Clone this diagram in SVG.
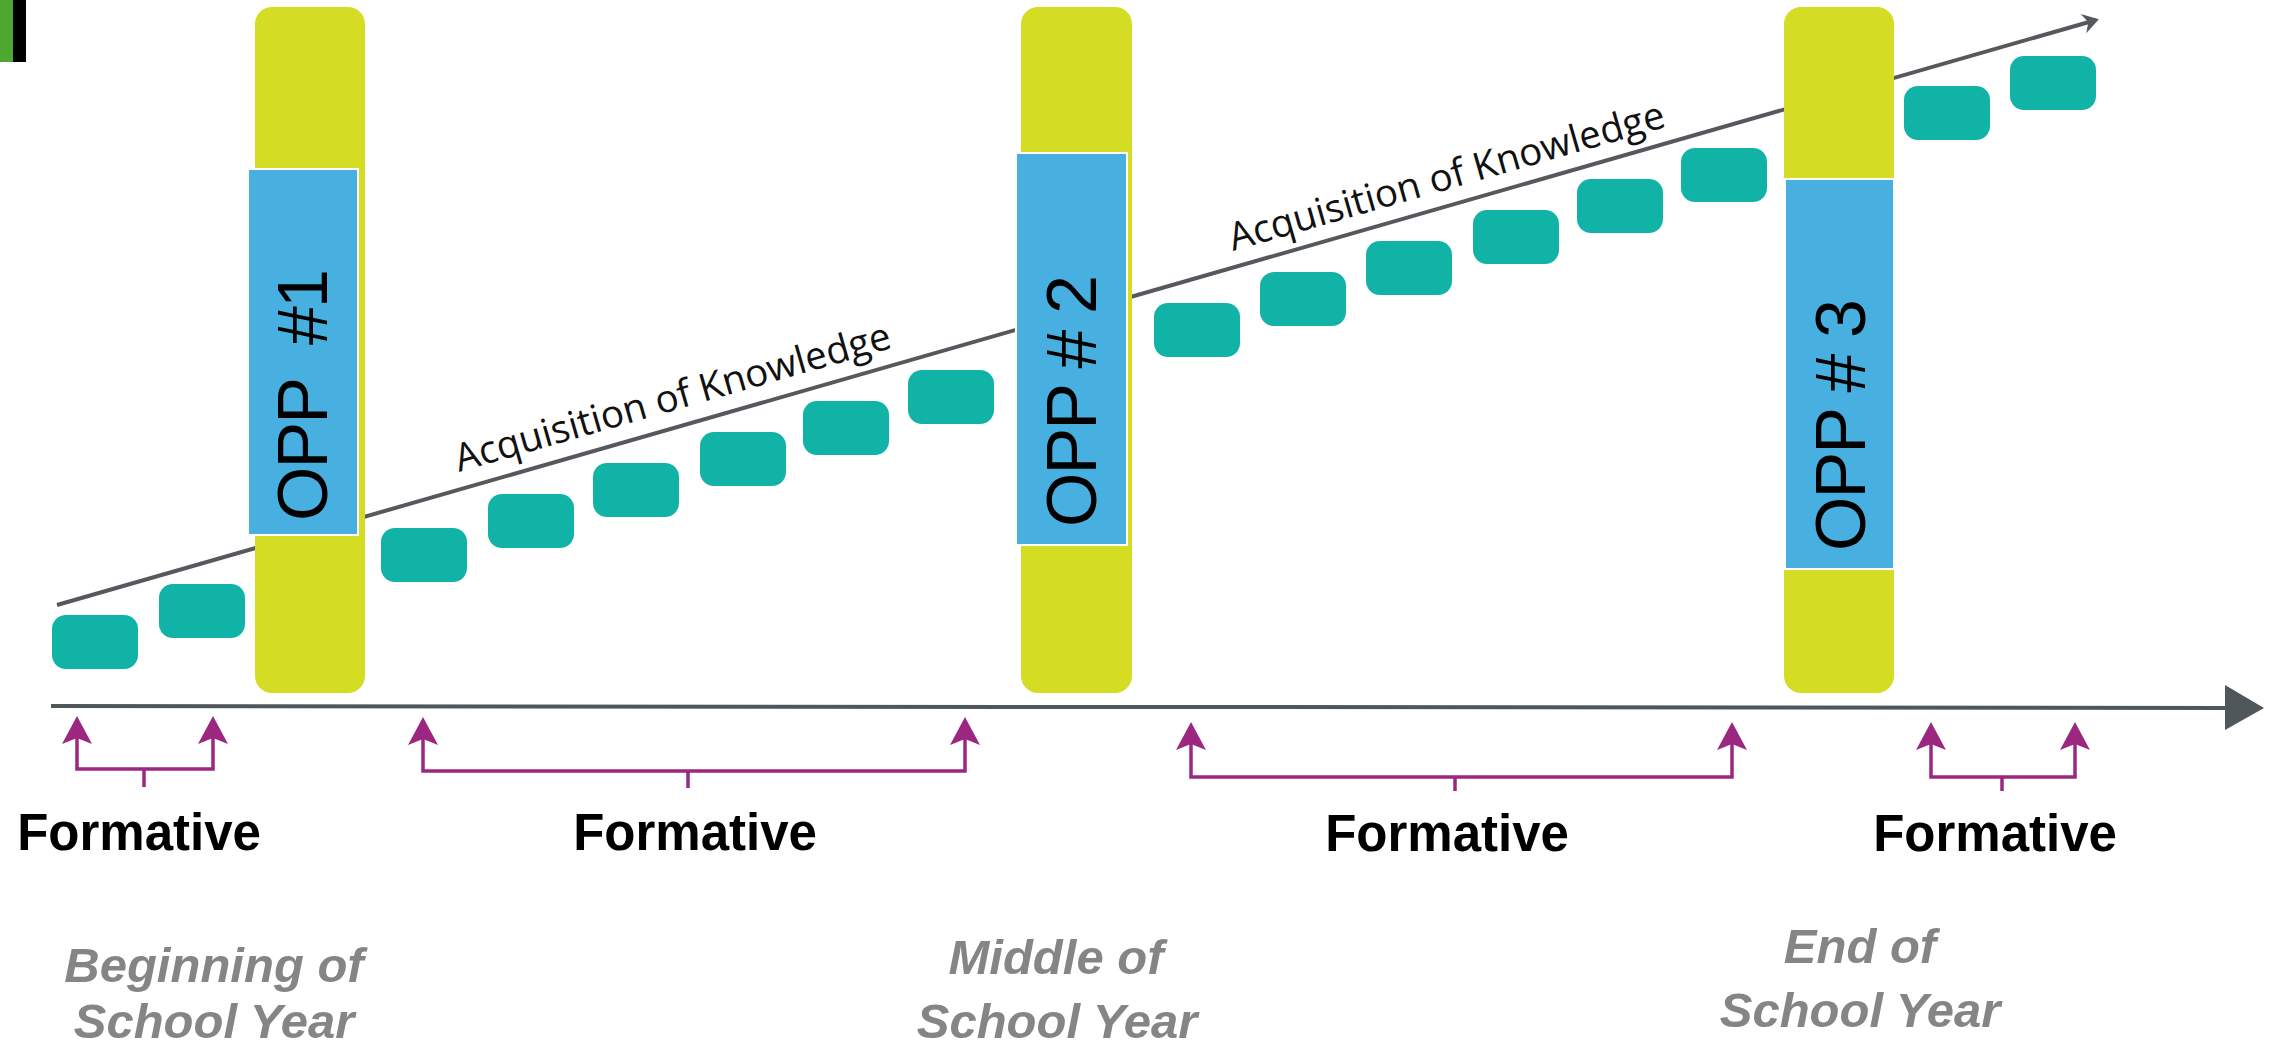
<svg xmlns="http://www.w3.org/2000/svg" width="2283" height="1050" viewBox="0 0 2283 1050">
<style>
.step{fill:#11b3a6}
.bar{fill:#d4dd24}
.opp{fill:#47b0e0;stroke:#ffffff;stroke-width:2}
.oppt{font-family:"Liberation Sans",Arial,sans-serif;font-size:70px;fill:#000;text-anchor:middle}
.acq{font-family:"Open Sans",sans-serif;font-size:38.5px;fill:#111}
.form{font-family:"Liberation Sans",Arial,sans-serif;font-size:51px;font-weight:bold;fill:#000;text-anchor:middle}
.when{font-family:"Liberation Sans",Arial,sans-serif;font-size:49px;font-weight:bold;font-style:italic;fill:#858585;text-anchor:middle}
.brk{fill:none;stroke:#9c2780;stroke-width:3.5}
.tick{stroke:#9c2780;stroke-width:3.5}
</style>
<defs>
<marker id="pa" markerUnits="userSpaceOnUse" viewBox="-24 -16 32 32" refX="0" refY="0" markerWidth="32" markerHeight="32" orient="auto-start-reverse">
<path d="M6,0 L-22,-15 L-16,0 L-22,15 Z" fill="#9c2780"/>
</marker>
<marker id="ga" markerUnits="userSpaceOnUse" viewBox="-16 -12 24 24" refX="0" refY="0" markerWidth="24" markerHeight="24" orient="auto">
<path d="M3,0 L-13,-10 L-8,0 L-13,10 Z" fill="#55595d"/>
</marker>
</defs>

<g id="corner-mark">
<rect x="0" y="0" width="13" height="62" fill="#4ea72e"/>
<rect x="13" y="0" width="13" height="62" fill="#000"/>
</g>

<g id="connectors">
<line id="knowledge-line" x1="57" y1="605" x2="2096" y2="20" stroke="#55595d" stroke-width="4" marker-end="url(#ga)"/>
<line id="time-axis" x1="51" y1="706" x2="2227" y2="708" stroke="#50575b" stroke-width="4"/>
<polygon points="2225,685 2264,708 2225,730" fill="#50575b"/>
<path class="brk" d="M77,722 V769 H213 V722" marker-start="url(#pa)" marker-end="url(#pa)"/>
<line class="tick" x1="144" y1="769" x2="144" y2="787"/>
<path class="brk" d="M423,723 V771 H965 V723" marker-start="url(#pa)" marker-end="url(#pa)"/>
<line class="tick" x1="688" y1="771" x2="688" y2="788"/>
<path class="brk" d="M1191,728 V777 H1732 V728" marker-start="url(#pa)" marker-end="url(#pa)"/>
<line class="tick" x1="1455" y1="777" x2="1455" y2="791"/>
<path class="brk" d="M1931,728 V777 H2075 V728" marker-start="url(#pa)" marker-end="url(#pa)"/>
<line class="tick" x1="2002" y1="777" x2="2002" y2="791"/>
</g>

<g id="steps">
<rect class="step" x="52" y="615" width="86" height="54" rx="14"/>
<rect class="step" x="159" y="584" width="86" height="54" rx="14"/>
<rect class="step" x="381" y="528" width="86" height="54" rx="14"/>
<rect class="step" x="488" y="494" width="86" height="54" rx="14"/>
<rect class="step" x="593" y="463" width="86" height="54" rx="14"/>
<rect class="step" x="700" y="432" width="86" height="54" rx="14"/>
<rect class="step" x="803" y="401" width="86" height="54" rx="14"/>
<rect class="step" x="908" y="370" width="86" height="54" rx="14"/>
<rect class="step" x="1154" y="303" width="86" height="54" rx="14"/>
<rect class="step" x="1260" y="272" width="86" height="54" rx="14"/>
<rect class="step" x="1366" y="241" width="86" height="54" rx="14"/>
<rect class="step" x="1473" y="210" width="86" height="54" rx="14"/>
<rect class="step" x="1577" y="179" width="86" height="54" rx="14"/>
<rect class="step" x="1681" y="148" width="86" height="54" rx="14"/>
<rect class="step" x="1904" y="86" width="86" height="54" rx="14"/>
<rect class="step" x="2010" y="56" width="86" height="54" rx="14"/>
</g>

<g id="acq-labels">
<text class="acq" transform="translate(459,472) rotate(-16)">Acquisition of Knowledge</text>
<text class="acq" transform="translate(1233,251) rotate(-16)">Acquisition of Knowledge</text>
</g>

<g id="opp1">
<rect class="bar" x="255" y="7" width="110" height="686" rx="17"/>
<rect class="opp" x="248" y="169" width="110" height="366"/>
<text class="oppt" transform="translate(327,395) rotate(-90)" textLength="252" lengthAdjust="spacing" xml:space="preserve">OPP  #1</text>
</g>

<g id="opp2">
<rect class="bar" x="1021" y="7" width="111" height="686" rx="17"/>
<rect class="opp" x="1016" y="153" width="111" height="392"/>
<text class="oppt" transform="translate(1096,401) rotate(-90)" textLength="252" lengthAdjust="spacing">OPP # 2</text>
</g>

<g id="opp3">
<rect class="bar" x="1784" y="7" width="110" height="686" rx="17"/>
<rect class="opp" x="1785" y="179" width="109" height="390"/>
<text class="oppt" transform="translate(1865,425) rotate(-90)" textLength="252" lengthAdjust="spacing">OPP # 3</text>
</g>

<g id="formative-labels">
<text class="form" x="139" y="850">Formative</text>
<text class="form" x="695" y="850">Formative</text>
<text class="form" x="1447" y="851">Formative</text>
<text class="form" x="1995" y="851">Formative</text>
</g>

<g id="time-labels">
<text class="when" x="214" y="982">Beginning of</text>
<text class="when" x="214" y="1038">School Year</text>
<text class="when" x="1056" y="974">Middle of</text>
<text class="when" x="1057" y="1038">School Year</text>
<text class="when" x="1860" y="963">End of</text>
<text class="when" x="1860" y="1027">School Year</text>
</g>
</svg>
